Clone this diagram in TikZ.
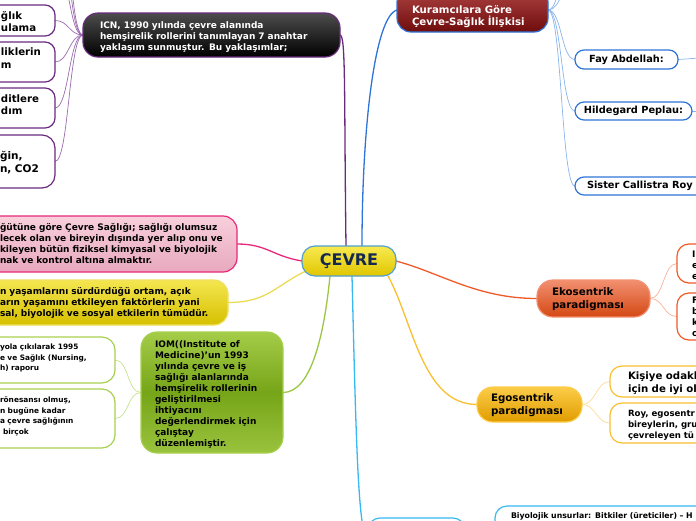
\documentclass[tikz,border=0pt]{standalone}
\usepackage{fontspec}
\setmainfont{DejaVu Sans}
\usetikzlibrary{calc,fit}
\definecolor{purp}{HTML}{6A2A80}
\definecolor{purpl}{HTML}{9A6AAE}
\definecolor{kblue}{HTML}{2E74D8}
\definecolor{kbluel}{HTML}{8AB4EC}
\definecolor{pinkb}{HTML}{E8287A}
\definecolor{pinkt}{HTML}{F8D0DC}
\definecolor{pinkd}{HTML}{E8A8BE}
\definecolor{yelb}{HTML}{F0E060}
\definecolor{yelt}{HTML}{F4E650}
\definecolor{yeld}{HTML}{D6C000}
\definecolor{grb}{HTML}{A8D050}
\definecolor{grt}{HTML}{A4CC48}
\definecolor{grm}{HTML}{6E9E10}
\definecolor{grl}{HTML}{C4E290}
\definecolor{ekob}{HTML}{F05A28}
\definecolor{ekot}{HTML}{F29070}
\definecolor{ekod}{HTML}{D44814}
\definecolor{ekol}{HTML}{F8B09A}
\definecolor{egob}{HTML}{F8C030}
\definecolor{egot}{HTML}{FCCC48}
\definecolor{egod}{HTML}{E09C00}
\definecolor{egol}{HTML}{FCDC98}
\definecolor{lblue}{HTML}{38B8F0}
\definecolor{cevb}{HTML}{50A0D0}
\definecolor{cevt}{HTML}{F8EA50}
\definecolor{cevd}{HTML}{E0C600}
\definecolor{navy}{HTML}{142850}
\definecolor{kurt}{HTML}{B04444}
\definecolor{kurd}{HTML}{6E0C0C}
\pgfdeclarelayer{bg}
\pgfsetlayers{bg,main}
\begin{document}
\begin{tikzpicture}[x=1pt,y=-1pt,
  box/.style={draw, rounded corners=10pt, inner sep=0pt, outer sep=0pt, line width=1.2pt},
  txt/.style={inner sep=0pt, outer sep=0pt, anchor=base west, align=left, text width=300pt, font=\fontsize{9}{11}\selectfont\bfseries},
  txtb/.style={txt, font=\fontsize{10.2}{12.5}\selectfont\bfseries},
  txts/.style={txt, font=\fontsize{7.4}{10.7}\selectfont\bfseries},
  lbl/.style={inner sep=0pt, outer sep=0pt, font=\fontsize{9.8}{12.5}\selectfont\bfseries},
  main/.style={line width=1.3pt},
  sub/.style={line width=0.7pt}]
\useasboundingbox (0,0) rectangle (696,520);
\clip (0,0) rectangle (696,520);

% ---------- central ----------
\node[box, draw=cevb, top color=cevt, bottom color=cevd, rounded corners=13pt, fit={(302,246) (396,276)}] (cevre) {};
\node[font=\fontsize{16}{16}\selectfont\bfseries, text=navy, inner sep=0pt] (cevt) at (cevre.center) {ÇEVRE};

% ---------- ICN (purple) ----------
\node[box, draw=purp, top color=black!70, bottom color=black, middle color=black!85, rounded corners=15pt, fit={(83,13) (340,57)}] (icn) {};
\node[txt, text=white] (icnt) at (100,28) {ICN, 1990 yılında çevre alanında\\hemşirelik rollerini tanımlayan 7 anahtar\\yaklaşım sunmuştur. Bu yaklaşımlar;};
\node[box, draw=purp, fill=white, fit={(-100,5) (55,36)}] (p1) {};
\node[txtb] (p1t) at (1,19) {ğlık\\ulama};
\node[box, draw=purp, fill=white, fit={(-100,42) (55,82)}] (p2) {};
\node[txtb] (p2t) at (1,55.5) {liklerin\\m};
\node[box, draw=purp, fill=white, fit={(-100,88) (55,128)}] (p3) {};
\node[txtb] (p3t) at (1,102) {ditlere\\dım};
\node[box, draw=purp, fill=white, rounded corners=13pt, fit={(-100,135) (55,188)}] (p4) {};
\node[txt, font=\fontsize{10.5}{13}\selectfont\bfseries] (p4t) at (0,159) {ğin,\\n, CO2};
\coordinate (p5) at (57,-25);
\coordinate (p6) at (57,-60);
\coordinate (p7) at (57,-100);

% ---------- Kuramcılara (blue) ----------
\node[box, draw=kblue, top color=kurt, bottom color=kurd, rounded corners=14pt, fit={(397,-12) (548,32)}] (kur) {};
\node[txtb, text=white] (kurtx) at (412,13) {Kuramcılara Göre\\Çevre-Sağlık İlişkisi};
\node[box, draw=kblue, fill=white, rounded corners=9pt, fit={(575,50) (678,69)}] (fay) {};
\node[lbl] (fayt) at (fay.center) {Fay Abdellah:};
\node[box, draw=kblue, fill=white, rounded corners=9pt, fit={(575,102) (692,120)}] (hil) {};
\node[lbl] (hilt) at (hil.center) {Hildegard Peplau:};
\node[box, draw=kblue, fill=white, rounded corners=9pt, fit={(575,177) (720,195)}] (roy) {};
\node[lbl, anchor=west] (royt) at (587,186) {Sister Callistra Roy};
\coordinate (k1) at (575,-20);
\coordinate (k2) at (575,-60);
\coordinate (fayo) at (700,58);
\coordinate (hilo) at (700,111);

% ---------- pink ----------
\node[box, draw=pinkb, top color=pinkt, bottom color=pinkd, rounded corners=14pt, fit={(-100,216) (237,272)}] (pink) {};
\node[txt] (pinkt) at (0,230.5) {ğütüne göre Çevre Sağlığı;  sağlığı olumsuz\\lecek olan ve bireyin dışında yer alıp onu ve\\kileyen bütün fiziksel kimyasal ve biyolojik\\nak ve kontrol altına almaktır.};

% ---------- yellow ----------
\node[box, draw=yelb, top color=yelt, bottom color=yeld, rounded corners=14pt, fit={(-100,280) (228,325)}] (yel) {};
\node[txt] (yelt) at (0,294) {n yaşamlarını sürdürdüğü ortam, açık\\arın yaşamını etkileyen faktörlerin yani\\sal, biyolojik ve sosyal etkilerin tümüdür.};

% ---------- green IOM ----------
\node[box, draw=grb, top color=grt, bottom color=grt!80!grm, middle color=grm!85!grt, rounded corners=16pt, fit={(141,332) (283,453)}] (iom) {};
\node[txt] (iomt) at (155,347.5) {IOM((Institute of\\Medicine)’un 1993\\yılında çevre ve iş\\sağlığı alanlarında\\hemşirelik rollerinin\\geliştirilmesi\\ihtiyacını\\değerlendirmek için\\çalıştay\\düzenlemiştir.};
\node[box, draw=grb, fill=white, rounded corners=13pt, fit={(-100,337) (115,383)}] (ga) {};
\node[txts] (gat) at (0,349.5) {yola çıkılarak 1995\\e ve Sağlık (Nursing,\\h) raporu};
\node[box, draw=grb, fill=white, rounded corners=13pt, fit={(-100,389) (115,448)}] (gb) {};
\node[txts] (gbt) at (0,402.5) {rönesansı olmuş,\\n bugüne kadar\\a çevre sağlığının\\\hspace*{3pt}birçok};

% ---------- Ekosentrik ----------
\node[box, draw=ekot, top color=ekot, bottom color=ekod, rounded corners=16pt, fit={(537,280) (650,317)}] (eko) {};
\node[txtb, font=\fontsize{10.3}{13}\selectfont\bfseries] (ekot) at (552,295.5) {Ekosentrik\\paradigması};
\node[box, draw=ekob, fill=white, rounded corners=12pt, fit={(677,244) (800,283)}] (e1) {};
\node[txt] (e1t) at (692,257) {I\\e\\e};
\node[box, draw=ekob, fill=white, rounded corners=12pt, fit={(677,293) (800,340)}] (e2) {};
\node[txt] (e2t) at (692,303) {F\\b\\k\\o};

% ---------- Egosentrik ----------
\node[box, draw=egot, top color=egot, bottom color=egod, rounded corners=16pt, fit={(477,387) (582,422)}] (ego) {};
\node[txtb, font=\fontsize{10.3}{13}\selectfont\bfseries] (egot) at (491,401.5) {Egosentrik\\paradigması};
\node[box, draw=egob, fill=white, rounded corners=12pt, fit={(610,366) (800,397)}] (g1) {};
\node[txtb] (g1t) at (628,379.5) {Kişiye odakl\\için de iyi ol};
\node[box, draw=egob, fill=white, rounded corners=12pt, fit={(610,403) (800,443)}] (g2) {};
\node[txt, font=\fontsize{8.6}{11}\selectfont\bfseries] (g2t) at (628,416.5) {Roy, egosentr\\bireylerin, gru\\çevreleyen tü};

% ---------- bottom light blue ----------
\node[box, draw=lblue, fill=white, rounded corners=12pt, fit={(368,518) (465,560)}] (bot) {};
\node[box, draw=lblue, fill=white, rounded corners=12pt, fit={(495,506) (800,540)}] (bio) {};
\node[txt, font=\fontsize{7.8}{10}\selectfont\bfseries] (biot) at (511,518) {Biyolojik unsurlar: Bitkiler (üreticiler) – H};

% ---------- connectors ----------
\begin{pgfonlayer}{bg}
\draw[main, purp] (icn.east) .. controls +(6,0) and +(-2,-150) .. ($(cevre.north west)+(44,0)$);
\draw[main, kblue] (kur.west) .. controls +(-22,6) and +(0,-120) .. ($(cevre.north west)+(60,0)$);
\draw[main, lblue] ($(cevre.south west)+(50,0)$) .. controls +(4,160) and +(-10,-2) .. (bot.west);
\draw[main, ekob] (cevre.east) .. controls +(45,12) and +(-60,0) .. (eko.west);
\draw[main, egob] ($(cevre.south east)+(-8,0)$) .. controls +(25,45) and +(-55,0) .. (ego.west);
\draw[main, grb!80!grm] (iom.east) .. controls +(28,0) and +(-6,60) .. ($(cevre.south west)+(28,0)$);
\draw[main, pinkb] (pink.east) .. controls +(30,0) and +(-30,-5) .. (cevre.west);
\draw[main, yelb!85!yeld] (yel.east) .. controls +(40,0) and +(-30,14) .. ($(cevre.south west)+(4,-5)$);
% ICN children
\foreach \c in {p1,p2,p3,p4} \draw[sub, purpl] (icn.west) .. controls +(-14,0) and +(14,0) .. (\c.east);
\foreach \c in {p5,p6,p7} \draw[sub, purpl] (icn.west) .. controls +(-14,0) and +(14,0) .. (\c);
% Kuramcılara children
\foreach \c in {fay,hil,roy} \draw[sub, kbluel] (kur.east) .. controls +(14,0) and +(-14,0) .. (\c.west);
\foreach \c in {k1,k2} \draw[sub, kbluel] (kur.east) .. controls +(14,0) and +(-14,0) .. (\c);
\draw[sub, kbluel] (fay.east) -- (fayo);
\draw[sub, kbluel] (hil.east) -- (hilo);
% Eko children
\foreach \c in {e1,e2} \draw[sub, ekol] (eko.east) .. controls +(14,0) and +(-14,0) .. (\c.west);
% Ego children
\foreach \c in {g1,g2} \draw[sub, egol] (ego.east) .. controls +(14,0) and +(-14,0) .. (\c.west);
% green children
\foreach \c in {ga,gb} \draw[sub, grl] (iom.west) .. controls +(-14,0) and +(14,0) .. (\c.east);
% bottom child
\draw[sub, lblue!60] (bot.east) .. controls +(14,0) and +(-14,0) .. (bio.west);
\end{pgfonlayer}
\end{tikzpicture}
\end{document}
